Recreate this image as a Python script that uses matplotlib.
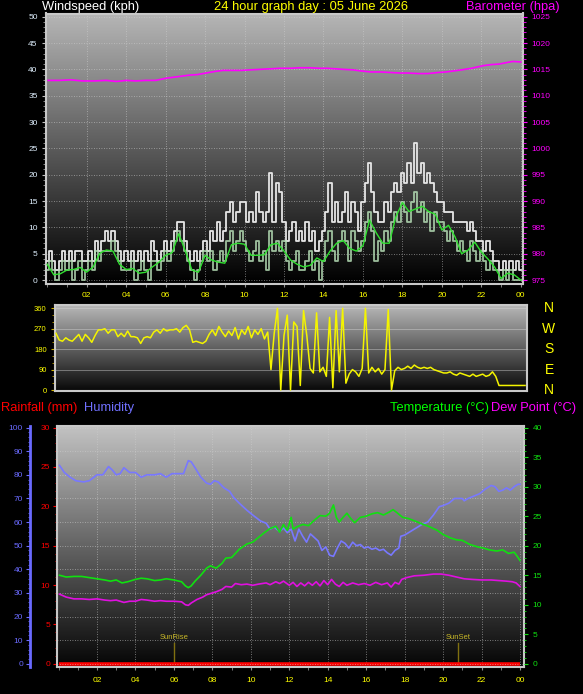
import numpy as np
import matplotlib
matplotlib.use("Agg")
import matplotlib.pyplot as plt
from matplotlib.colors import LinearSegmentedColormap
from matplotlib.ticker import MultipleLocator, FixedLocator

plt.rcParams['font.family'] = ['Liberation Sans', 'DejaVu Sans']

W, H = 583, 694

# ---------------- DATA ----------------
title = "24 hour graph day : 05 June 2026"
xtick_hours = [2, 4, 6, 8, 10, 12, 14, 16, 18, 20, 22, 24]
xtick_labels = ["02", "04", "06", "08", "10", "12", "14", "16", "18", "20", "22", "00"]

# wind gust (kph), 10-minute steps from 00:00 to 24:00
gust = [3.7, 5.6, 3.7, 1.9, 3.7, 5.6,
        3.7, 5.6, 3.7, 5.6, 5.6, 3.7,
        3.7, 5.6, 3.7, 7.4, 5.6, 7.4,
        9.3, 7.4, 9.3, 7.4, 5.6, 3.7,
        5.6, 3.7, 5.6, 3.7, 5.6, 3.7,
        5.6, 3.7, 7.4, 5.6, 3.7, 5.6,
        7.4, 5.6, 7.4, 9.3, 11.1, 11.1,
        7.4, 5.6, 3.7, 5.6, 3.7, 5.6,
        7.4, 5.6, 9.3, 7.4, 11.1, 7.4,
        9.3, 13.0, 14.8, 11.1, 13.0, 14.8,
        14.8, 11.1, 13.0, 11.1, 16.7, 13.0,
        11.1, 13.0, 20.4, 11.1, 18.5, 16.7,
        11.1, 7.4, 9.3, 11.1, 7.4, 9.3,
        7.4, 11.1, 7.4, 9.3, 5.6, 7.4,
        9.3, 13.0, 18.5, 11.1, 14.8, 11.1,
        13.0, 16.7, 11.1, 14.8, 13.0, 9.3,
        14.8, 18.5, 22.2, 16.7, 13.0, 11.1,
        11.1, 14.8, 13.0, 16.7, 18.5, 16.7,
        20.4, 18.5, 22.2, 18.5, 26.0, 20.4,
        22.2, 18.5, 20.4, 18.5, 16.7, 14.8,
        14.8, 13.0, 13.0, 13.0, 11.1, 11.1,
        11.1, 11.1, 9.3, 11.1, 9.3, 7.4,
        7.4, 5.6, 7.4, 5.6, 3.7, 3.7,
        1.9, 3.7, 1.9, 3.7, 1.9, 3.7,
        1.9]

# wind speed (kph), 10-minute steps
speed = [1.9, 3.7, 1.9, 0.0, 1.9, 3.7,
         1.9, 3.7, 0.0, 1.9, 3.7, 0.0,
         1.9, 3.7, 1.9, 5.6, 3.7, 5.6,
         5.6, 5.6, 7.4, 5.6, 3.7, 1.9,
         1.9, 1.9, 3.7, 0.0, 1.9, 3.7,
         1.9, 0.0, 3.7, 3.7, 1.9, 3.7,
         5.6, 3.7, 5.6, 7.4, 9.3, 7.4,
         5.6, 3.7, 1.9, 0.0, 1.9, 3.7,
         5.6, 3.7, 5.6, 1.9, 3.7, 5.6,
         3.7, 7.4, 9.3, 5.6, 7.4, 9.3,
         7.4, 5.6, 3.7, 5.6, 7.4, 3.7,
         5.6, 1.9, 9.3, 5.6, 7.4, 5.6,
         7.4, 3.7, 1.9, 3.7, 5.6, 1.9,
         1.9, 3.7, 5.6, 1.9, 3.7, 0.0,
         3.7, 7.4, 9.3, 5.6, 3.7, 7.4,
         9.3, 7.4, 3.7, 9.3, 7.4, 5.6,
         7.4, 11.1, 13.0, 9.3, 3.7, 7.4,
         5.6, 9.3, 7.4, 11.1, 13.0, 11.1,
         14.8, 13.0, 11.1, 14.8, 16.7, 13.0,
         14.8, 11.1, 13.0, 9.3, 13.0, 11.1,
         11.1, 9.3, 7.4, 9.3, 7.4, 5.6,
         7.4, 5.6, 3.7, 7.4, 5.6, 3.7,
         5.6, 3.7, 1.9, 3.7, 1.9, 1.9,
         0.0, 1.9, 0.0, 1.9, 0.0, 0.0,
         0.0]

# average wind speed (kph), 20-minute steps
avg = [3.0, 1.0, 1.2,
       1.9, 2.0, 2.4,
       1.5, 2.5, 5.1,
       5.7, 5.5, 3.0,
       2.0, 2.2, 1.3,
       1.5, 2.5, 3.4,
       4.7, 5.2, 8.8,
       5.5, 1.9, 1.5,
       4.7, 3.8, 3.4,
       3.2, 6.7, 7.0,
       6.8, 4.7, 4.7,
       4.8, 6.7, 7.0,
       5.5, 3.8, 3.0,
       2.5, 2.8, 4.2,
       3.5, 5.5, 7.0,
       7.5, 6.0, 5.5,
       6.5, 11.4, 9.0,
       7.0, 7.0, 12.0,
       14.7, 13.0, 13.5,
       14.0, 13.0, 12.5,
       9.5, 10.4, 8.2,
       5.0, 5.7, 7.2,
       5.3, 4.0, 2.5,
       0.3, 1.3, 1.0,
       0.0]

baro_hours = [0.05, 0.6, 1.2, 1.8, 2.4, 3.0, 3.5, 4.0, 4.5, 5.0, 5.5, 6.0, 6.6, 7.2, 7.6,
              8.05, 8.5, 8.9, 9.4, 9.85, 10.3, 10.8, 11.3, 11.8, 12.3, 12.8, 13.3, 13.8,
              14.2, 14.6, 15.0, 15.5, 15.9, 16.4, 16.9, 17.4, 17.9, 18.3, 18.8, 19.3,
              19.8, 20.2, 20.6, 21.0, 21.5, 22.1, 22.5, 22.9, 23.3, 23.6, 24.0]
baro = [1012.9, 1012.9, 1013.0, 1012.8, 1012.8, 1012.9, 1012.7, 1012.9, 1012.8, 1012.9,
        1012.9, 1013.3, 1013.6, 1013.9, 1014.0, 1014.3, 1014.6, 1014.8, 1014.8, 1014.8,
        1014.9, 1015.0, 1015.1, 1015.2, 1015.2, 1015.3, 1015.3, 1015.2, 1015.2, 1015.1,
        1015.0, 1014.9, 1014.7, 1014.5, 1014.5, 1014.4, 1014.3, 1014.3, 1014.2, 1014.2,
        1014.4, 1014.5, 1014.7, 1014.9, 1015.2, 1015.7, 1015.9, 1016.0, 1016.3, 1016.5,
        1016.4]

# wind direction (degrees), 10-minute steps
wdir = [250, 220, 215, 230, 220, 215,
        230, 245, 215, 245, 230, 210,
        240, 265, 265, 270, 250, 265,
        265, 235, 250, 235, 260, 235,
        235, 230, 205, 230, 235, 230,
        255, 265, 250, 270, 260, 265,
        265, 270, 255, 275, 285, 265,
        210, 215, 210, 205, 215, 245,
        265, 240, 280, 255, 235, 260,
        240, 275, 225, 265, 245, 280,
        230, 265, 245, 270, 225, 255,
        90, 250, 360, 0, 240, 330,
        0, 300, 280, 20, 350, 240,
        95, 75, 340, 80, 100, 60,
        320, 10, 350, 80, 360, 30,
        70, 90, 80, 60, 95, 360,
        75, 100, 80, 95, 70, 90,
        355, 0, 85, 100, 90, 95,
        105, 95, 110, 100, 95, 100,
        95, 100, 90, 85, 80, 75,
        75, 80, 70, 65, 75, 70,
        65, 60, 70, 60, 65, 70,
        60, 65, 80, 60, 20, 20,
        20, 20, 20, 20, 20, 20,
        20]
compass = ["N", "W", "S", "E", "N"]
compass_deg = [360, 270, 180, 90, 0]

hum_hours = [0.05, 0.3, 0.6, 0.9, 1.3, 1.6, 2.0, 2.3, 2.6, 2.8, 3.0, 3.2, 3.4, 3.7, 4.0, 4.3,
             4.6, 5.0, 5.3, 5.6, 5.9, 6.2, 6.5, 6.75, 6.9, 7.1, 7.4, 7.7, 7.9, 8.1, 8.3, 8.6,
             8.9, 9.1, 9.4, 9.8, 10.1, 10.5, 10.8, 11.0, 11.2, 11.5, 11.7, 11.9, 12.1, 12.3,
             12.5, 12.7, 12.9, 13.1, 13.3, 13.5, 13.7, 13.9, 14.1, 14.3, 14.5, 14.7, 14.9,
             15.1, 15.3, 15.5, 15.7, 15.9, 16.1, 16.3, 16.5, 16.7, 16.9, 17.1, 17.3, 17.5,
             17.7, 17.8, 18.0, 18.3, 18.6, 18.9, 19.2, 19.5, 19.8, 20.0, 20.3, 20.6, 21.0,
             21.1, 21.3, 21.6, 21.9, 22.2, 22.5, 22.7, 22.9, 23.1, 23.3, 23.5, 23.7, 23.9, 24.0]
humidity = [84, 81, 79, 77.5, 77, 77.5, 80, 80, 83.5, 82, 80, 80.5, 83, 81, 81, 79,
            80, 80, 80.5, 79, 80.5, 80.5, 80.5, 86, 85.5, 83, 79, 76.5, 76, 77.5, 77, 74.5,
            73, 70.5, 68, 65, 63, 60.5, 59.5, 57, 58, 56, 57.5, 55.5, 57, 52,
            57, 54, 51.5, 55, 53.5, 52, 48, 49.5, 46, 45.5, 49, 52, 51,
            49, 51.5, 50, 50.5, 49, 49.5, 48.5, 49, 48, 48.5, 47, 46, 48,
            49, 54, 54.5, 56, 57.5, 59, 60, 63, 66.5, 67, 68, 70, 70,
            69, 70, 71, 72, 74, 75.5, 75, 73, 73.5, 74.5, 73.5, 75, 76, 76]

temp_hours = [0.05, 0.4, 0.8, 1.2, 1.6, 2.0, 2.4, 2.7, 3.0, 3.3, 3.6, 4.0, 4.3, 4.6, 5.0, 5.3,
              5.6, 6.0, 6.4, 6.6, 6.75, 6.9, 7.1, 7.4, 7.7, 7.9, 8.2, 8.5, 8.7, 9.0, 9.4, 9.8,
              10.1, 10.4, 10.7, 11.0, 11.3, 11.5, 11.7, 11.9, 12.1, 12.2, 12.4, 12.7, 13.0,
              13.3, 13.6, 13.9, 14.1, 14.3, 14.45, 14.6, 14.8, 15.0, 15.2, 15.4, 15.7, 16.0,
              16.3, 16.6, 16.9, 17.2, 17.4, 17.6, 17.9, 18.2, 18.6, 18.9, 19.3, 19.7, 20.0,
              20.4, 20.7, 21.0, 21.4, 21.8, 22.1, 22.4, 22.8, 23.1, 23.4, 23.7, 23.9, 24.0]
temperature = [15.0, 14.7, 14.8, 14.8, 14.6, 14.4, 14.2, 14.0, 14.2, 13.7, 13.9, 14.3, 14.5,
               14.4, 14.1, 14.2, 14.4, 14.2, 13.9, 13.2, 12.9, 13.2, 14.0, 15.0, 16.2, 16.6,
               16.2, 17.0, 17.9, 18.0, 19.4, 20.3, 20.6, 21.4, 22.2, 22.9, 23.3, 22.3, 23.6,
               22.6, 24.8, 22.8, 23.2, 23.6, 23.4, 24.3, 25.1, 25.0, 25.5, 26.9, 24.8, 24.0,
               24.8, 25.5, 24.6, 23.9, 24.8, 25.0, 25.4, 25.6, 25.2, 25.7, 26.1, 25.6, 24.8,
               24.6, 24.1, 23.7, 23.2, 22.6, 21.9, 21.3, 21.0, 20.9, 20.2, 19.8, 19.6, 19.3,
               19.1, 19.3, 18.7, 18.9, 18.0, 17.5]

dew_hours = [0.05, 0.4, 0.8, 1.2, 1.6, 2.0, 2.4, 2.7, 3.0, 3.4, 3.7, 4.0, 4.3, 4.6, 5.0, 5.3,
             5.6, 6.0, 6.4, 6.6, 6.75, 6.9, 7.2, 7.5, 7.7, 8.0, 8.2, 8.5, 8.7, 9.0, 9.2, 9.5,
             9.8, 10.1, 10.4, 10.8, 11.0, 11.3, 11.5, 11.7, 12.0, 12.2, 12.4, 12.6, 12.8,
             13.0, 13.2, 13.4, 13.6, 13.8, 14.0, 14.2, 14.4, 14.6, 14.8, 15.0, 15.3, 15.6,
             15.9, 16.2, 16.5, 16.8, 17.1, 17.3, 17.5, 17.7, 17.85, 18.1, 18.5, 19.0, 19.5,
             19.9, 20.3, 20.7, 21.1, 21.5, 22.0, 22.5, 22.9, 23.3, 23.6, 23.8, 24.0]
dewpoint = [11.8, 11.3, 11.0, 11.0, 10.9, 11.0, 10.8, 10.7, 10.8, 10.4, 10.6, 10.6, 10.9,
            10.8, 10.6, 10.7, 10.6, 10.6, 10.5, 10.0, 9.9, 10.3, 10.9, 11.3, 11.7, 12.0,
            12.2, 12.6, 13.1, 13.0, 13.6, 13.4, 13.5, 13.3, 13.5, 13.7, 13.4, 13.9, 13.6,
            14.0, 13.3, 13.8, 13.1, 13.7, 13.2, 13.8, 13.3, 13.9, 13.2, 14.1, 13.4, 14.3,
            13.5, 13.1, 13.8, 13.3, 13.7, 13.4, 13.6, 13.3, 13.8, 13.4, 13.7, 13.0, 13.8,
            13.5, 14.3, 14.6, 14.9, 15.0, 15.2, 15.2, 15.0, 14.7, 14.4, 14.3, 14.2, 14.2,
            14.1, 14.0, 13.9, 13.7, 13.1]

rain_hours = [0.0, 24.0]
rainfall = [0.0, 0.0]

sun_events = ["SunRise", "SunSet"]
sun_hours = [6.0, 20.8]

# ---------------- FIGURE ----------------
fig = plt.figure(figsize=(W / 100, H / 100), dpi=100, facecolor="black")


def rect(x0, y0, x1, y1):
    return [x0 / W, 1 - y1 / H, (x1 - x0) / W, (y1 - y0) / H]


def px(x, y):
    return x / W, 1 - y / H


def gradient(ax, top, bottom):
    cmap = LinearSegmentedColormap.from_list("g", [bottom, top])
    g = np.linspace(1, 0, 256).reshape(-1, 1)
    ax.imshow(g, extent=(0, 1, 0, 1), transform=ax.transAxes, aspect="auto",
              cmap=cmap, zorder=0, interpolation="bilinear")


def frame(ax):
    for s in ["left", "bottom", "right", "top"]:
        ax.spines[s].set_color("#c8c8c8")
        ax.spines[s].set_linewidth(1.5)
    ax.set_facecolor("black")


FS = 6
HEAD = 9.3

# ---- Top panel: wind ----
ax1 = fig.add_axes(rect(46, 13.5, 523, 283.5))
frame(ax1)
gradient(ax1, "#b6b6b6", "#000000")
t10 = np.arange(len(gust)) / 6.0
t20 = np.arange(len(avg)) / 3.0
ax1.plot(t10, gust, color="#e6e6e6", lw=1.3, drawstyle="steps-mid", zorder=3)
ax1.plot(t10, speed, color="#b4dcb4", lw=1.3, drawstyle="steps-mid", alpha=0.85, zorder=4)
ax1.plot(t20, avg, color="#30e030", lw=1.0, zorder=5)
ax1.plot(baro_hours, np.array(baro) - 975, color="#ff00ff", lw=1.2, zorder=5)
ax1.set_xlim(-0.06, 24.11)
ax1.set_ylim(-0.65, 50.6)
ax1.yaxis.set_major_locator(MultipleLocator(5))
ax1.yaxis.set_minor_locator(MultipleLocator(1))
ax1.xaxis.set_major_locator(FixedLocator(xtick_hours))
ax1.xaxis.set_minor_locator(MultipleLocator(1))
ax1.set_xticklabels(xtick_labels)
ax1.tick_params(axis="x", which="both", colors="#909090", labelcolor="#ffff00",
                labelsize=FS, length=2, pad=4)
ax1.tick_params(axis="y", which="major", colors="#c0c0c0", labelcolor="#e0f0ff",
                labelsize=FS, length=3, pad=3)
ax1.tick_params(axis="y", which="minor", colors="#a0a0a0", length=2)
ax1.grid(True, which="major", color="#d0d0d0", ls=(0, (1, 2)), lw=0.6, alpha=0.7, zorder=1)

ax1b = ax1.twinx()
ax1b.set_ylim(975 - 0.65, 1025 + 0.6)
ax1b.yaxis.set_major_locator(MultipleLocator(5))
ax1b.yaxis.set_minor_locator(MultipleLocator(1))
ax1b.tick_params(axis="y", which="major", colors="#ff00ff", labelcolor="#ff00ff",
                 labelsize=FS, length=3, pad=3)
ax1b.tick_params(axis="y", which="minor", colors="#ff00ff", length=2)
for s in ax1b.spines.values():
    s.set_visible(False)

fig.text(*px(42, 7), "Windspeed (kph)", color="white", fontsize=HEAD, ha="left", va="center")
fig.text(*px(311, 7), title, color="#ffff00", fontsize=HEAD, ha="center", va="center")
fig.text(*px(560, 7), "Barometer (hpa)", color="#ff00ff", fontsize=HEAD, ha="right", va="center")

# ---- Middle panel: wind direction ----
ax2 = fig.add_axes(rect(55, 305, 527, 391))
frame(ax2)
gradient(ax2, "#b8b8b8", "#080808")
ax2.plot(t10, wdir, color="#f4f400", lw=1.1, zorder=4)
ax2.set_xlim(-0.05, 24.1)
ax2.set_ylim(-4.4, 374.5)
ax2.yaxis.set_major_locator(FixedLocator([0, 90, 180, 270, 360]))
ax2.yaxis.set_minor_locator(MultipleLocator(30))
ax2.set_xticks([])
ax2.tick_params(axis="y", which="major", colors="#d0b000", labelcolor="#ffff00",
                labelsize=FS - 0.5, length=3, pad=3)
ax2.tick_params(axis="y", which="minor", colors="#c0a000", length=2)
ax2.grid(True, axis="y", which="major", color="#d8d8d8", ls="-", lw=0.6, alpha=0.5, zorder=1)
for lab, d in zip(compass, compass_deg):
    fig.text(*px(549, 308.3 + (360 - d) * 0.2269), lab, color="#ffff00", fontsize=10,
             ha="center", va="center")

# ---- Bottom panel: temperature / humidity / rain ----
ax3 = fig.add_axes(rect(57, 426, 524, 667))
frame(ax3)
gradient(ax3, "#c2c2c2", "#050505")
ax3.set_xlim(-0.08, 24.21)
ax3.set_ylim(-0.4, 30.2)
ax3.plot(rain_hours, rainfall, color="#ff0000", lw=2.6, zorder=6, solid_capstyle="butt")
# humidity and temperature drawn on twin axes with matching scales
ax3h = ax3.twinx()
ax3h.set_ylim(-0.4 * 100 / 30, 30.2 * 100 / 30)
ax3t = ax3.twinx()
ax3t.set_ylim(-0.4 * 40 / 30, 30.2 * 40 / 30)
ax3h.plot(hum_hours, humidity, color="#7878ff", lw=1.2, zorder=4)
ax3t.plot(temp_hours, temperature, color="#10e010", lw=1.2, zorder=4)
ax3t.plot(dew_hours, dewpoint, color="#e010e0", lw=1.2, zorder=4)
for name, h in zip(sun_events, sun_hours):
    ax3.plot([h, h], [0, 2.6], color="#807010", lw=1.0, zorder=5)
    ax3.text(h, 2.9, name, color="#c8b828", fontsize=FS - 0.5, ha="center", va="bottom", zorder=6)

ax3.yaxis.set_major_locator(MultipleLocator(5))
ax3.yaxis.set_minor_locator(MultipleLocator(1))
ax3.xaxis.set_major_locator(FixedLocator(xtick_hours))
ax3.xaxis.set_minor_locator(MultipleLocator(1))
ax3.set_xticklabels(xtick_labels)
ax3.tick_params(axis="x", which="both", colors="#909090", labelcolor="#ffff00",
                labelsize=FS, length=2, pad=5)
ax3.tick_params(axis="y", which="major", colors="#ff0000", labelcolor="#ff0000",
                labelsize=FS, length=3, pad=2)
ax3.tick_params(axis="y", which="minor", colors="#ff0000", length=1.5)
ax3.grid(True, axis="x", which="major", color="#d0d0d0", ls=(0, (1, 2)), lw=0.6, alpha=0.7, zorder=1)

# humidity axis on the far left (about 27 px left of the plot area)
ax3h.yaxis.set_ticks_position("left")
ax3h.yaxis.set_label_position("left")
ax3h.spines["left"].set_position(("outward", 19.5))
ax3h.spines["left"].set_visible(True)
ax3h.spines["left"].set_color("#6a6aff")
ax3h.spines["left"].set_linewidth(2)
for s in ["right", "top", "bottom"]:
    ax3h.spines[s].set_visible(False)
ax3h.yaxis.set_major_locator(MultipleLocator(10))
ax3h.yaxis.set_minor_locator(MultipleLocator(2))
ax3h.tick_params(axis="y", which="major", colors="#6a6aff", labelcolor="#6a6aff",
                 labelsize=FS, length=3, pad=2)
ax3h.tick_params(axis="y", which="minor", colors="#6a6aff", length=1.5)
ax3h.grid(True, axis="y", which="major", color="#d0d0d0", ls=(0, (1, 2)), lw=0.6, alpha=0.7, zorder=1)

for s in ax3t.spines.values():
    s.set_visible(False)
ax3t.yaxis.set_major_locator(MultipleLocator(5))
ax3t.yaxis.set_minor_locator(MultipleLocator(1))
ax3t.tick_params(axis="y", which="major", colors="#10e010", labelcolor="#10e010",
                 labelsize=FS, length=3, pad=3)
ax3t.tick_params(axis="y", which="minor", colors="#10e010", length=1.5)

fig.text(*px(1, 408), "Rainfall (mm)", color="#ff0000", fontsize=HEAD, ha="left", va="center")
fig.text(*px(84, 408), "Humidity", color="#7070ff", fontsize=HEAD, ha="left", va="center")
fig.text(*px(390, 408), "Temperature (°C)", color="#00ff00", fontsize=HEAD, ha="left", va="center")
fig.text(*px(491, 408), "Dew Point (°C)", color="#ff00ff", fontsize=HEAD, ha="left", va="center")

fig.savefig("out.png", dpi=100, facecolor="black")
